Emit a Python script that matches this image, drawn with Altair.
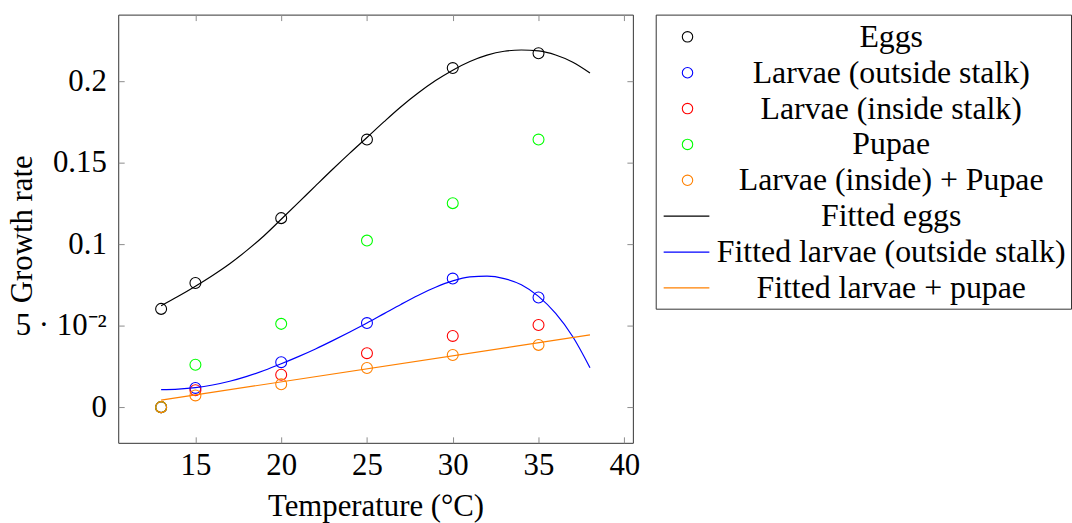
import altair as alt
import pandas as pd

# Measured growth rates per temperature
temps = [13, 15, 20, 25, 30, 35]
eggs = [0.0603, 0.0762, 0.1160, 0.1642, 0.2081, 0.2172]
larvae_outside = [0.0, 0.0118, 0.0276, 0.0516, 0.0789, 0.0673]
larvae_inside = [0.0, 0.0104, 0.0199, 0.0331, 0.0437, 0.0504]
pupae = [0.0, 0.0260, 0.0511, 0.1022, 0.1252, 0.1642]
larvae_pupae = [0.0, 0.0072, 0.0140, 0.0240, 0.0320, 0.0382]

# Fitted curves
fit_temps = list(range(13, 39))
eggs_fit = [0.0622, 0.0680, 0.0742, 0.0808, 0.0880, 0.0962, 0.1052, 0.1153,
            0.1255, 0.1358, 0.1460, 0.1559, 0.1655, 0.1752, 0.1845, 0.1929,
            0.2004, 0.2068, 0.2121, 0.2160, 0.2184, 0.2192, 0.2186, 0.2161,
            0.2117, 0.2051]
larvae_fit = [0.0108, 0.0111, 0.0120, 0.0136, 0.0159, 0.0189, 0.0225, 0.0266,
              0.0310, 0.0357, 0.0408, 0.0461, 0.0516, 0.0574, 0.0632, 0.0687,
              0.0736, 0.0775, 0.0799, 0.0804, 0.0789, 0.0751, 0.0680, 0.0575,
              0.0432, 0.0242]
lp_fit_temps = [13, 38]
lp_fit = [0.0043, 0.0443]

marker_names = ["Eggs", "Larvae (outside stalk)", "Larvae (inside stalk)",
                "Pupae", "Larvae (inside) + Pupae"]
line_names = ["Fitted eggs", "Fitted larvae (outside stalk)", "Fitted larvae + pupae"]
all_names = marker_names + line_names
series_colors = ["#000000", "#0000ff", "#ff0000", "#00ff00", "#ff8000",
                 "#000000", "#0000ff", "#ff8000"]

x_ticks = [15, 20, 25, 30, 35, 40]
y_ticks = [0, 0.05, 0.1, 0.15, 0.2]

FONT = "Liberation Serif"
FS = 31
LEGEND_FS = 32
PLOT_W, PLOT_H = 518, 431

# Long tables
pts_rows = []
for name, vals in zip(marker_names, [eggs, larvae_outside, larvae_inside, pupae, larvae_pupae]):
    for t, v in zip(temps, vals):
        pts_rows.append({"temp": t, "rate": v, "series": name})
points_df = pd.DataFrame(pts_rows)

line_rows = []
for name, ts, vals in [("Fitted eggs", fit_temps, eggs_fit),
                       ("Fitted larvae (outside stalk)", fit_temps, larvae_fit),
                       ("Fitted larvae + pupae", lp_fit_temps, lp_fit)]:
    for t, v in zip(ts, vals):
        line_rows.append({"temp": t, "rate": v, "series": name})
lines_df = pd.DataFrame(line_rows)

x_scale = alt.Scale(domain=[10.5, 40.5], nice=False, zero=False)
y_scale = alt.Scale(domain=[-0.0219, 0.2409], nice=False, zero=False)
color_scale = alt.Scale(domain=all_names, range=series_colors)

tick_style = dict(tickSize=6, tickColor="#8c8c8c", tickWidth=1, offset=-6,
                  domain=False, grid=False)
text_style = dict(labelFont=FONT, titleFont=FONT, labelFontSize=FS, titleFontSize=FS,
                  labelColor="black", titleColor="black", titleFontWeight="normal")

y_label_expr = ("abs(datum.value - 0.05) < 1e-9 ? '5 \u00b7 10\u207b\u00b2' : "
                "'' + datum.value")

points = alt.Chart(points_df).mark_point(
    shape="circle", filled=False, size=121, strokeWidth=1.1, opacity=1
).encode(
    x=alt.X("temp:Q", scale=x_scale,
            axis=alt.Axis(values=x_ticks, orient="bottom", title="Temperature (\u00b0C)",
                          labelPadding=8, titlePadding=11, labelFlush=False,
                          **tick_style, **text_style)),
    y=alt.Y("rate:Q", scale=y_scale,
            axis=alt.Axis(values=y_ticks, orient="left", title="Growth rate",
                          labelExpr=y_label_expr, labelPadding=12, labelFlush=False,
                          titleAngle=270, titleBaseline="alphabetic", titleAlign="center",
                          titleX=-93, titleY=PLOT_H / 2,
                          **tick_style, **text_style)),
    color=alt.Color("series:N", scale=color_scale, legend=None),
)

lines = alt.Chart(lines_df).mark_line(strokeWidth=1.2, interpolate="monotone").encode(
    x=alt.X("temp:Q", scale=x_scale,
            axis=alt.Axis(values=x_ticks, orient="top", labels=False, title="", **tick_style)),
    y=alt.Y("rate:Q", scale=y_scale,
            axis=alt.Axis(values=y_ticks, orient="right", labels=False, title="", **tick_style)),
    color=alt.Color("series:N", scale=color_scale, legend=None),
    detail="series:N",
)

plot = alt.layer(points, lines).resolve_axis(x="independent", y="independent").properties(
    width=PLOT_W, height=PLOT_H
)

# Legend panel
legend_df = pd.DataFrame({
    "series": all_names,
    "row": list(range(len(all_names))),
    "kind": ["marker"] * len(marker_names) + ["line"] * len(line_names),
})
leg_y = alt.Y("row:Q", scale=alt.Scale(domain=[-0.62, 7.58], reverse=True, nice=False, zero=False),
              axis=None)
leg_base = alt.Chart(legend_df)
leg_text = leg_base.mark_text(font=FONT, fontSize=LEGEND_FS, align="center", baseline="middle",
                              color="black").encode(x=alt.value(237), y=leg_y, text="series:N")
leg_marks = leg_base.transform_filter("datum.kind == 'marker'").mark_point(
    shape="circle", filled=False, size=110, strokeWidth=1.1, opacity=1
).encode(x=alt.value(32), y=leg_y, color=alt.Color("series:N", scale=color_scale, legend=None))
leg_lines = leg_base.transform_filter("datum.kind == 'line'").mark_rule(strokeWidth=1.2).encode(
    x=alt.value(8), x2=alt.value(54), y=leg_y,
    color=alt.Color("series:N", scale=color_scale, legend=None))
legend_panel = alt.layer(leg_lines, leg_marks, leg_text).properties(width=418, height=296)

chart = alt.hconcat(plot, legend_panel, spacing=14).properties(
    padding={"left": 6, "top": 12, "right": 0, "bottom": 0},
    background="white",
).configure_view(stroke="#333333", strokeWidth=1)

chart.save("out.html", embed_options={"renderer": "svg", "actions": False})
